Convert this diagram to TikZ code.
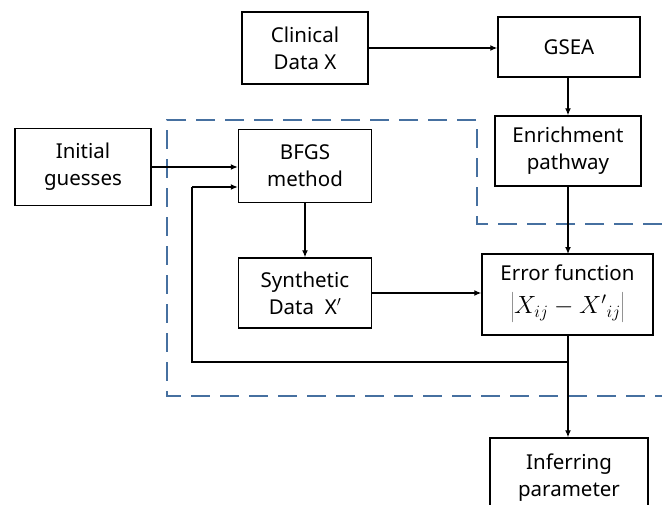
\documentclass[tikz,border=0pt]{standalone}
\usepackage{fontspec}
\setmainfont{Noto Sans}
\usetikzlibrary{arrows.meta}
\definecolor{dashblue}{RGB}{70,112,160}
\begin{document}
\begin{tikzpicture}[x=1pt,y=-1pt,
  box/.style={draw=black,line width=1.4pt,fill=white,inner sep=0pt,align=center,font=\fontsize{20.5}{27}\selectfont},
  arr/.style={line width=1.3pt,-{Latex[length=7pt,width=6pt]}},
  ln/.style={line width=1.3pt}]
\useasboundingbox (0,0) rectangle (662,504);
\clip (0,0) rectangle (662,504);
\draw[dashblue,line width=2.6pt,dash pattern=on 19pt off 10pt]
  (662,224) -- (477,224) -- (477,120) -- (167,120) -- (167,396) -- (662,396);
\node[box,minimum width=126pt,minimum height=72pt] (clin) at (305,48) {Clinical\\Data X};
\node[box,minimum width=142pt,minimum height=60pt] (gsea) at (569,47) {GSEA};
\node[box,minimum width=146pt,minimum height=70pt] (enr) at (568,151) {Enrichment\\pathway};
\node[box,minimum width=136pt,minimum height=77pt] (init) at (83,167) {Initial\\guesses};
\node[box,minimum width=133pt,minimum height=73pt] (bfgs) at (305,166) {BFGS\\method};
\node[box,minimum width=133pt,minimum height=70pt] (syn) at (305,293) {Synthetic\\Data~~X$'$};
\node[box,minimum width=171pt,minimum height=81pt] (err) at (567.5,294.5) {Error function\\[6pt]{\fontsize{27}{30}\selectfont$\left|\rule[-10pt]{0pt}{30pt}X_{ij}-X'{}_{ij}\right|$}};
\node[box,minimum width=158pt,minimum height=80pt] (inf) at (569,478) {Inferring\\parameter};
\coordinate (c1) at (568,362);
\coordinate (c2) at (192,362);
\coordinate (c3) at (192,187);
\draw[arr] (clin.east) -- (gsea.west |- clin.east);
\draw[arr] (gsea.south -| enr.north) -- (enr.north);
\draw[arr] (enr.south -| 568,0) -- (568,254);
\draw[arr] (init.east) -- (bfgs.west |- init.east);
\draw[arr] (bfgs.south) -- (syn.north);
\draw[arr] (syn.east) -- (err.west |- syn.east);
\draw[ln] (568,335) -- (c1) -- (c2) -- (c3);
\draw[arr] (c3) -- (bfgs.west |- c3);
\draw[arr] (c1) -- (inf.north -| c1);
\end{tikzpicture}
\end{document}
